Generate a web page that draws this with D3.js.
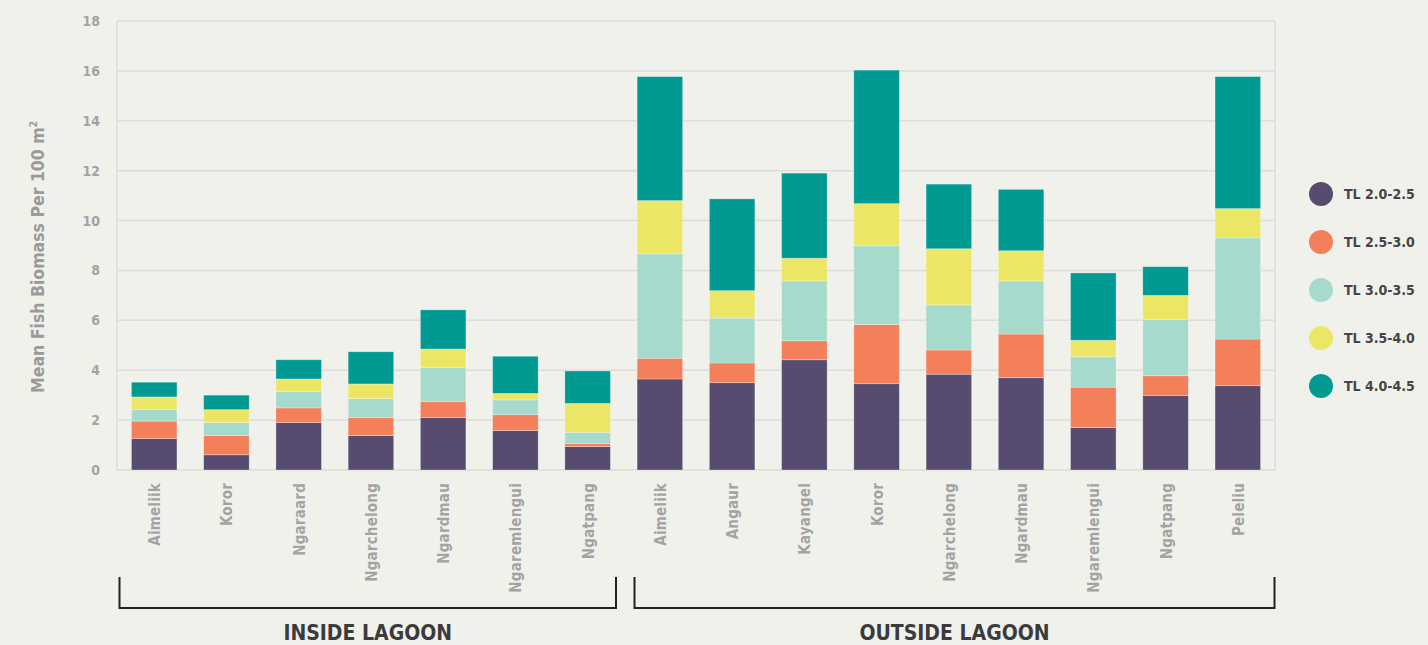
<!DOCTYPE html>
<html>
<head>
<meta charset="utf-8">
<script src="https://cdn.jsdelivr.net/npm/d3@7"></script>
<style>
  body { margin: 0; background: #f1f1ec; }
  svg { display: block; }
  text { font-family: "Liberation Sans Narrow", "DejaVu Sans Condensed", "Roboto Condensed", sans-serif; font-weight: bold; }
</style>
</head>
<body>
<div id="chart"></div>
<script>
// sites, in order, with their lagoon group
const sites = ["Aimeliik", "Koror", "Ngaraard", "Ngarchelong", "Ngardmau", "Ngaremlengui", "Ngatpang",
    "Aimeliik", "Angaur", "Kayangel", "Koror", "Ngarchelong", "Ngardmau", "Ngaremlengui", "Ngatpang", "Peleliu"];
const groups = ["INSIDE LAGOON", "INSIDE LAGOON", "INSIDE LAGOON", "INSIDE LAGOON", "INSIDE LAGOON", "INSIDE LAGOON", "INSIDE LAGOON",
    "OUTSIDE LAGOON", "OUTSIDE LAGOON", "OUTSIDE LAGOON", "OUTSIDE LAGOON", "OUTSIDE LAGOON", "OUTSIDE LAGOON", "OUTSIDE LAGOON", "OUTSIDE LAGOON", "OUTSIDE LAGOON"];

const levels = ["TL 2.0-2.5", "TL 2.5-3.0", "TL 3.0-3.5", "TL 3.5-4.0", "TL 4.0-4.5"];

// biomass per trophic level, one value per site
const tl20 = [1.26, 0.61, 1.90, 1.38, 2.10, 1.58, 0.94, 3.65, 3.50, 4.42, 3.46, 3.84, 3.70, 1.70, 2.99, 3.38];
const tl25 = [0.70, 0.77, 0.59, 0.72, 0.64, 0.64, 0.12, 0.83, 0.79, 0.76, 2.37, 0.97, 1.75, 1.62, 0.79, 1.87];
const tl30 = [0.46, 0.52, 0.65, 0.76, 1.36, 0.59, 0.45, 4.18, 1.80, 2.40, 3.16, 1.81, 2.13, 1.22, 2.25, 4.06];
const tl35 = [0.51, 0.52, 0.51, 0.59, 0.75, 0.26, 1.16, 2.14, 1.10, 0.91, 1.69, 2.25, 1.21, 0.66, 0.97, 1.17];
const tl40 = [0.59, 0.58, 0.77, 1.29, 1.57, 1.49, 1.30, 4.97, 3.68, 3.41, 5.35, 2.59, 2.46, 2.70, 1.15, 5.29];

const yTicks = [0, 2, 4, 6, 8, 10, 12, 14, 16, 18];
const colors = ["#574c70", "#f47f5b", "#a6dacc", "#ece667", "#009a93"];

const series = [tl20, tl25, tl30, tl35, tl40];
const rows = sites.map((s, i) => {
    let r = {id: i, site: s, group: groups[i]};
    levels.forEach((l, j) => r[l] = series[j][i]);
    return r;
});

const W = 1428, H = 645;
const plot = {left: 117, right: 1275, top: 21, bottom: 470};

const svg = d3.select("#chart").append("svg")
    .attr("width", W)
    .attr("height", H);

const x = d3.scaleBand()
    .domain(rows.map(d => d.id))
    .range([plot.left, plot.right])
    .paddingInner(0.37)
    .paddingOuter(0.2);

const y = d3.scaleLinear()
    .domain([0, 18])
    .range([plot.bottom, plot.top]);

// grid
svg.append("g")
    .selectAll("line")
    .data(yTicks)
    .enter()
    .append("line")
    .attr("x1", plot.left)
    .attr("x2", plot.right)
    .attr("y1", d => y(d))
    .attr("y2", d => y(d))
    .attr("stroke", "#dcdcd8")
    .attr("stroke-width", 1.5);

svg.append("line")
    .attr("x1", plot.left).attr("x2", plot.left)
    .attr("y1", plot.top).attr("y2", plot.bottom)
    .attr("stroke", "#dcdcd8").attr("stroke-width", 1.5);
svg.append("line")
    .attr("x1", plot.right).attr("x2", plot.right)
    .attr("y1", plot.top).attr("y2", plot.bottom)
    .attr("stroke", "#dcdcd8").attr("stroke-width", 1.5);

// y axis
let yAxis = svg.append("g")
    .attr("transform", "translate(" + (plot.left - 14) + ",0)")
    .call(d3.axisLeft(y).tickValues(yTicks).tickSize(0));
yAxis.select(".domain").remove();
yAxis.selectAll("text")
    .attr("fill", "#a3a3a3")
    .style("font-size", "14px")
    .style("font-family", "'Liberation Sans Narrow', 'DejaVu Sans Condensed', sans-serif")
    .style("font-weight", "bold");

let yTitle = svg.append("text")
    .attr("transform", "translate(44,257) rotate(-90)")
    .attr("text-anchor", "middle")
    .attr("fill", "#9a9a9a")
    .style("font-size", "17.5px");
yTitle.append("tspan").text("Mean Fish Biomass Per 100 m");
yTitle.append("tspan").attr("dy", -7).style("font-size", "10px").text("2");

// bars
const stacked = d3.stack().keys(levels)(rows);

svg.append("g")
    .selectAll("g")
    .data(stacked)
    .enter()
    .append("g")
    .attr("fill", (d, i) => colors[i])
    .selectAll("rect")
    .data(d => d)
    .enter()
    .append("rect")
    .attr("x", d => x(d.data.id))
    .attr("width", x.bandwidth())
    .attr("y", d => y(d[1]))
    .attr("height", d => y(d[0]) - y(d[1]))
    .attr("stroke", "rgba(255,255,255,0.35)")
    .attr("stroke-width", 0.8);

// x labels
svg.append("g")
    .selectAll("text")
    .data(rows)
    .enter()
    .append("text")
    .attr("transform", d => "translate(" + (x(d.id) + x.bandwidth() / 2 + 6) + ",483) rotate(-90)")
    .attr("text-anchor", "end")
    .attr("fill", "#a3a3a3")
    .style("font-size", "15px")
    .style("letter-spacing", "0.2px")
    .text(d => d.site);

// group brackets
const groupNames = Array.from(new Set(groups));
const brackets = [
    {name: groupNames[0], x0: 119.5, x1: 616},
    {name: groupNames[1], x0: 634.5, x1: 1274.5}
];
brackets.forEach(b => {
    svg.append("path")
        .attr("d", `M${b.x0},577V608H${b.x1}V577`)
        .attr("fill", "none")
        .attr("stroke", "#222")
        .attr("stroke-width", 2);
    svg.append("text")
        .attr("x", (b.x0 + b.x1) / 2)
        .attr("y", 640)
        .attr("text-anchor", "middle")
        .attr("fill", "#3b3b3b")
        .style("font-size", "21px")
        .text(b.name);
});

// legend
let legend = svg.append("g")
    .selectAll("g")
    .data(levels)
    .enter()
    .append("g")
    .attr("transform", (d, i) => "translate(1321," + (194 + i * 48) + ")");
legend.append("circle")
    .attr("r", 12)
    .attr("fill", (d, i) => colors[i]);
legend.append("text")
    .attr("x", 23)
    .attr("y", 5)
    .attr("fill", "#454545")
    .style("font-size", "14px")
    .text(d => d);
</script>
</body>
</html>
